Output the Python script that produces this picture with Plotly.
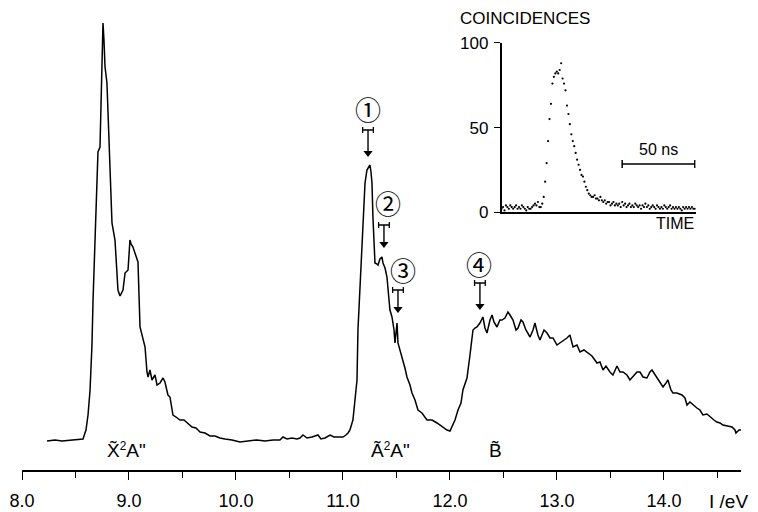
import plotly.graph_objects as go

# ---- main photoelectron spectrum (ionization energy in eV, intensity in arb. units) ----
energy = [8.234, 8.308, 8.374, 8.449, 8.523, 8.570, 8.598, 8.617, 8.636, 8.654, 8.664, 8.682, 8.701, 8.710,
          8.729, 8.738, 8.748, 8.757, 8.766, 8.776, 8.794, 8.813, 8.841, 8.869, 8.897, 8.916, 8.935, 8.944,
          8.963, 8.972, 8.991, 9.009, 9.019, 9.037, 9.065, 9.084, 9.103, 9.131, 9.150, 9.168, 9.178, 9.196,
          9.215, 9.243, 9.262, 9.290, 9.318, 9.336, 9.364, 9.383, 9.411, 9.439, 9.477, 9.514, 9.542, 9.589,
          9.626, 9.664, 9.710, 9.757, 9.804, 9.850, 9.897, 9.963, 10.037, 10.112, 10.196, 10.271, 10.346,
          10.411, 10.439, 10.477, 10.523, 10.570, 10.598, 10.626, 10.664, 10.710, 10.766, 10.794, 10.832,
          10.879, 10.916, 10.953, 11.000, 11.028, 11.047, 11.065, 11.093, 11.112, 11.131, 11.140, 11.159,
          11.178, 11.196, 11.206, 11.224, 11.234, 11.252, 11.262, 11.271, 11.280, 11.299, 11.318, 11.327,
          11.346, 11.364, 11.374, 11.393, 11.411, 11.430, 11.439, 11.458, 11.477, 11.486, 11.495, 11.505,
          11.514, 11.533, 11.551, 11.579, 11.598, 11.626, 11.645, 11.673, 11.701, 11.738, 11.785, 11.832,
          11.879, 11.907, 11.944, 11.972, 12.000, 12.019, 12.047, 12.075, 12.103, 12.121, 12.140, 12.159,
          12.187, 12.206, 12.215, 12.234, 12.252, 12.280, 12.308, 12.327, 12.346, 12.374, 12.393, 12.411,
          12.439, 12.467, 12.486, 12.514, 12.542, 12.561, 12.589, 12.617, 12.636, 12.664, 12.682, 12.710,
          12.748, 12.776, 12.794, 12.822, 12.841, 12.879, 12.907, 12.935, 12.963, 13.000, 13.028, 13.065,
          13.093, 13.121, 13.150, 13.187, 13.215, 13.252, 13.290, 13.327, 13.374, 13.402, 13.430, 13.458,
          13.495, 13.523, 13.561, 13.589, 13.617, 13.654, 13.682, 13.720, 13.748, 13.776, 13.804, 13.841,
          13.869, 13.888, 13.916, 13.935, 13.963, 13.991, 14.019, 14.037, 14.065, 14.084, 14.121, 14.168,
          14.196, 14.215, 14.243, 14.271, 14.308, 14.336, 14.364, 14.402, 14.430, 14.467, 14.495, 14.523,
          14.551, 14.589, 14.636, 14.664, 14.673, 14.701, 14.729]
intensity = [29, 30, 29, 30, 31, 31, 40, 55, 80, 125, 170, 237, 293, 318,
             323, 360, 403, 447, 430, 403, 387, 327, 247, 230, 180, 174, 178, 180,
             197, 198, 200, 230, 226, 223, 215, 208, 143, 130, 123, 98, 93, 100,
             90, 95, 85, 87, 92, 88, 75, 73, 55, 53, 50, 50, 47, 43,
             42, 38, 37, 34, 34, 32, 31, 30, 28, 29, 30, 29, 30,
             30, 33, 31, 32, 31, 32, 35, 32, 33, 35, 31, 32,
             35, 33, 33, 33, 35, 37, 40, 50, 70, 90, 140, 180,
             220, 260, 287, 300, 302, 305, 298, 287, 253, 207, 206, 205,
             211, 213, 207, 202, 193, 175, 160, 153, 140, 127, 135, 147,
             127, 120, 113, 102, 93, 85, 77, 70, 60, 57, 50, 50,
             47, 45, 42, 40, 39, 43, 50, 60, 67, 80, 87, 92,
             115, 130, 140, 142, 143, 147, 153, 142, 137, 150, 155, 148,
             143, 150, 150, 152, 158, 155, 150, 140, 142, 150, 148, 140,
             133, 140, 147, 135, 130, 140, 137, 132, 132, 125, 127, 130,
             132, 135, 123, 125, 118, 120, 117, 114, 107, 108, 100, 104,
             98, 95, 104, 98, 98, 95, 90, 95, 98, 98, 93, 92,
             98, 100, 95, 92, 88, 83, 87, 90, 80, 77, 77, 75,
             72, 65, 68, 65, 62, 60, 55, 56, 53, 50, 48, 47,
             45, 44, 43, 40, 37, 40, 40]

x_ticks = [8.0, 9.0, 10.0, 11.0, 12.0, 13.0, 14.0]
x_tick_labels = ["8.0", "9.0", "10.0", "11.0", "12.0", "13.0", "14.0"]

# ---- marked energies (arrows with resolution bars) ----
mark_labels = ["\u2460", "\u2461", "\u2462", "\u2463"]
mark_energy = [11.234, 11.383, 11.514, 12.280]
mark_bar_level = [340, 245, 180, 187]
mark_tip_level = [313, 222, 157, 160]
mark_label_energy = [11.234, 11.421, 11.561, 12.270]
mark_label_level = [362, 268, 201, 207]
resolution_half_width = 0.05

# ---- band labels ----
band_labels = ['X\u0303<span style="font-size:17px"><sup>2</sup></span>A"',
               'A\u0303<span style="font-size:17px"><sup>2</sup></span>A"',
               "B\u0303"]
band_energy = [8.98, 11.44, 12.43]

# ---- inset: coincidence time spectrum ----
time_ns = list(range(0, 134))
coincidences = [2, 3, 1, 4, 3, 2, 4, 3, 2, 3,
                4, 2, 3, 2, 4, 3, 2, 1, 3, 2,
                2, 3, 4, 5, 4, 6, 3, 3, 5, 9,
                18, 29, 42, 55, 64, 76, 80, 82, 83, 82,
                84, 88, 79, 76, 72, 63, 58, 52, 46, 42,
                39, 35, 31, 28, 25, 22, 21, 18, 15, 13,
                11, 10, 9, 9, 10, 8, 8, 7, 9, 7,
                6, 7, 5, 6, 6, 4, 5, 6, 4, 5,
                4, 5, 3, 6, 4, 5, 3, 4, 5, 3,
                4, 3, 5, 4, 3, 4, 2, 4, 3, 5,
                3, 4, 2, 3, 4, 3, 2, 4, 3, 2,
                3, 2, 4, 3, 2, 3, 4, 2, 3, 2,
                3, 2, 3, 2, 1, 3, 2, 3, 2, 3,
                2, 3, 2, 2]
inset_y_ticks = [0, 50, 100]
scale_bar_start, scale_bar_length, scale_bar_level = 83.0, 50.0, 28.5

FONT = "Liberation Sans, Arial, sans-serif"
fig = go.Figure()

fig.add_trace(go.Scatter(x=energy, y=intensity, mode="lines",
                         line=dict(color="black", width=1.5), hoverinfo="skip"))

# resolution bars
fig.add_trace(go.Scatter(x=mark_energy, y=mark_bar_level, mode="markers",
                         marker=dict(size=1, color="rgba(0,0,0,0)"),
                         error_x=dict(type="constant", value=resolution_half_width,
                                      width=3, thickness=1.3, color="black")))

# arrows from bar centre down to the marked point
for e, yb, yt in zip(mark_energy, mark_bar_level, mark_tip_level):
    fig.add_trace(go.Scatter(x=[e, e], y=[yb, yt + 4], mode="lines",
                             line=dict(color="black", width=1.4), hoverinfo="skip"))
    fig.add_trace(go.Scatter(x=[e], y=[yt + 4], mode="markers",
                             marker=dict(symbol="triangle-down", size=8, color="black",
                                         line=dict(width=0)), hoverinfo="skip"))

# inset data
fig.add_trace(go.Scatter(x=time_ns, y=coincidences, mode="markers",
                         marker=dict(size=2.2, color="black"),
                         xaxis="x2", yaxis="y2"))
# 50 ns scale bar
fig.add_trace(go.Scatter(x=[scale_bar_start + scale_bar_length / 2], y=[scale_bar_level],
                         mode="markers", marker=dict(size=1, color="rgba(0,0,0,0)"),
                         error_x=dict(type="constant", value=scale_bar_length / 2,
                                      width=4, thickness=1.5, color="black"),
                         xaxis="x2", yaxis="y2"))

annotations = []
for lab, le, ll in zip(mark_labels, mark_label_energy, mark_label_level):
    annotations.append(dict(x=le, y=ll, xref="x", yref="y", text=lab, showarrow=False,
                            font=dict(family="Noto Sans CJK JP", size=26, color="black")))

for lab, e in zip(band_labels, band_energy):
    annotations.append(dict(x=e, y=20, xref="x", yref="y", text=lab, showarrow=False,
                            font=dict(family=FONT, size=19, color="black")))

annotations.append(dict(x=14.6, y=0, xref="x", yref="paper", yanchor="top", yshift=-19,
                        text="I /eV", showarrow=False,
                        font=dict(family=FONT, size=19, color="black")))
annotations.append(dict(x=0.70, y=1.004, xref="paper", yref="paper", text="COINCIDENCES",
                        showarrow=False, xanchor="center", yanchor="middle",
                        font=dict(family=FONT, size=17, color="black")))
annotations.append(dict(x=133.6, y=0, xref="x2", yref="y2", text="TIME", showarrow=False,
                        xanchor="right", yanchor="top", yshift=-1,
                        font=dict(family=FONT, size=16, color="black")))
annotations.append(dict(x=scale_bar_start + scale_bar_length / 2, y=scale_bar_level,
                        xref="x2", yref="y2", text="50 ns", showarrow=False,
                        xanchor="center", yanchor="bottom", yshift=4,
                        font=dict(family=FONT, size=16, color="black")))

fig.update_layout(
    width=758, height=512,
    margin=dict(l=22, r=17, t=20, b=42),
    paper_bgcolor="white", plot_bgcolor="white",
    showlegend=False,
    font=dict(family=FONT, color="black"),
    xaxis=dict(range=[8.0, 14.72], showline=True, linecolor="black", linewidth=1.5,
               automargin=False,
               ticks="outside", ticklen=8, tickwidth=1.3, tickcolor="black",
               tickvals=x_ticks, ticktext=x_tick_labels, ticklabelstandoff=6,
               tickfont=dict(family=FONT, size=18, color="black"),
               minor=dict(dtick=0.5, tick0=8.0, ticks="outside", ticklen=6, tickwidth=1.3,
                          tickcolor="black", showgrid=False),
               showgrid=False, zeroline=False),
    yaxis=dict(range=[0, 450], visible=False, showgrid=False, zeroline=False, automargin=False),
    xaxis2=dict(domain=[0.667, 0.937], anchor="y2", range=[0, 133.6],
                showline=True, linecolor="black", linewidth=1.5, ticks="",
                showticklabels=False, showgrid=False, zeroline=False),
    yaxis2=dict(domain=[0.573, 0.949], anchor="x2", range=[0, 100],
                showline=True, linecolor="black", linewidth=1.5,
                ticks="outside", ticklen=6, tickwidth=1.3, tickcolor="black",
                tickvals=inset_y_ticks, ticklabelstandoff=2,
                tickfont=dict(family=FONT, size=17, color="black"),
                showgrid=False, zeroline=False),
    annotations=annotations,
)

fig.write_html("out.html", config={"displayModeBar": False},
               post_script="document.body.style.margin='0';document.body.style.padding='0';")
